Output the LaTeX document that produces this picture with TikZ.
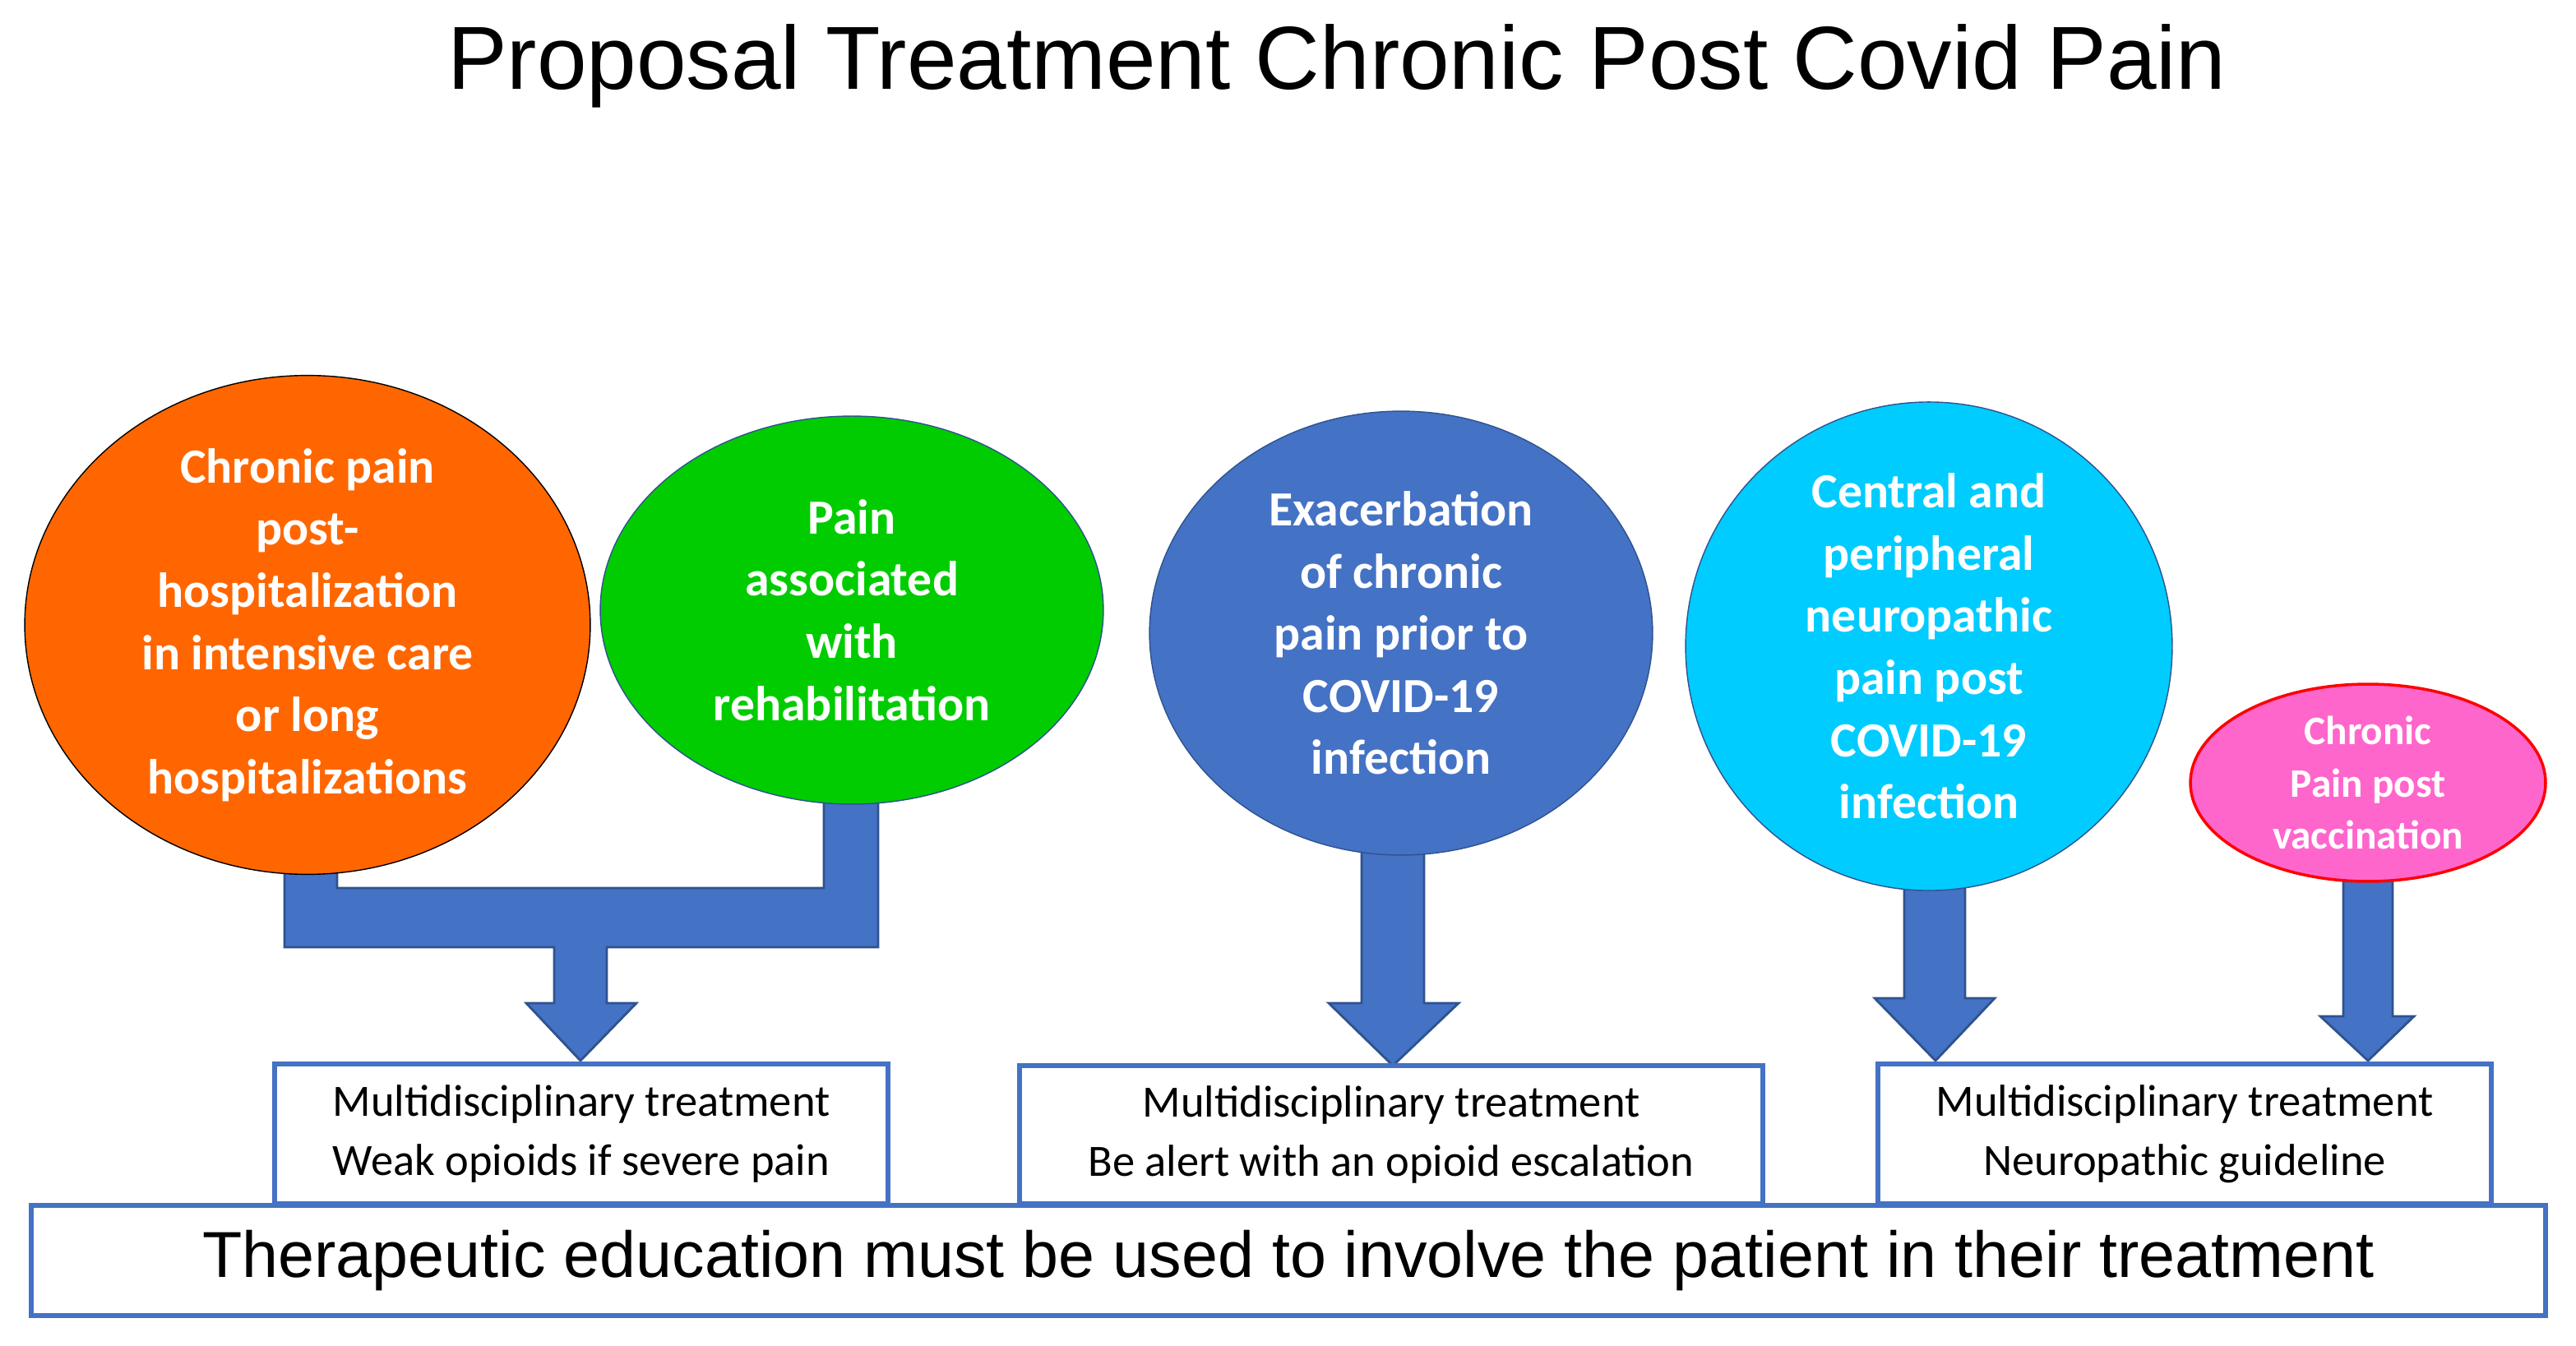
\documentclass[tikz,border=0pt]{standalone}
\usepackage{fontspec}
\setmainfont{Liberation Sans}
\newfontfamily\carlito{Carlito}
\usetikzlibrary{shapes,positioning}
\definecolor{orangefill}{RGB}{255,102,0}
\definecolor{greenfill}{RGB}{0,204,0}
\definecolor{bluefill}{RGB}{68,114,196}
\definecolor{cyanfill}{RGB}{0,204,255}
\definecolor{pinkfill}{RGB}{255,102,204}
\definecolor{arrowedge}{RGB}{47,82,143}

\begin{document}
\begin{tikzpicture}[x=0.02cm,y=-0.02cm]
\tikzset{
  blob/.style={ellipse, draw, inner sep=0pt, align=center, text=white,
    font=\carlito\fontsize{17}{21.5}\selectfont\bfseries},
  treat/.style={rectangle, draw=bluefill, line width=1.6pt, fill=white,
    align=center, font=\carlito\fontsize{15.5}{20.5}\selectfont},
  block/.style={fill=bluefill, draw=arrowedge, line width=0.8pt},
}
\useasboundingbox (0,0) rectangle (1566.5,818.5);

\node[font=\fontsize{31}{36}\selectfont] (title) at (813,40) {Proposal Treatment Chronic Post Covid Pain};

% block arrows (behind the ellipses)
\draw[block] (173,500) -- (205,500) -- (205,540) -- (501,540) -- (501,480) -- (534,480)
  -- (534,576) -- (369,576) -- (369,610) -- (387,610) -- (353,645) -- (320,610)
  -- (337,610) -- (337,576) -- (173,576) -- cycle;
\draw[block] (828,500) -- (866,500) -- (866,610) -- (887,610) -- (847,648) -- (808,610) -- (828,610) -- cycle;
\draw[block] (1158,500) -- (1195,500) -- (1195,607) -- (1213,607) -- (1177,645) -- (1140,607) -- (1158,607) -- cycle;
\draw[block] (1425,520) -- (1455,520) -- (1455,618) -- (1468,618) -- (1440,645) -- (1411,618) -- (1425,618) -- cycle;

\node[blob, fill=orangefill, minimum width=6.88cm, minimum height=5.44cm] (icu) at (187,380)
  {Chronic pain\\post-\\hospitalization\\in intensive care\\or long\\hospitalizations};
\node[blob, fill=greenfill, draw=arrowedge, minimum width=6.12cm, minimum height=4.72cm] (rehab) at (518,371)
  {Pain\\associated\\with\\rehabilitation};
\node[blob, fill=bluefill, draw=arrowedge, minimum width=6.12cm, minimum height=5.4cm] (exac) at (852,385)
  {Exacerbation\\of chronic\\pain prior to\\COVID-19\\infection};
\node[blob, fill=cyanfill, draw=arrowedge, minimum width=5.92cm, minimum height=5.4cm] (neuro) at (1173,393)
  {Central and\\peripheral\\neuropathic\\pain post\\COVID-19\\infection};
\node[blob, fill=pinkfill, draw=red, line width=1pt, minimum width=4.32cm, minimum height=2.4cm,
  font=\carlito\fontsize{14}{18}\selectfont\bfseries] (vacc) at (1440,476)
  {Chronic\\Pain post\\vaccination};

\node[treat, minimum width=7.46cm, minimum height=1.7cm] (t1) at (353.5,689.5)
  {Multidisciplinary treatment\\Weak opioids if severe pain};
\node[treat, minimum width=9.04cm, minimum height=1.68cm] (t2) at (846,690)
  {Multidisciplinary treatment\\Be alert with an opioid escalation};
\node[treat, minimum width=7.46cm, minimum height=1.7cm] (t3) at (1328.5,689.5)
  {Multidisciplinary treatment\\Neuropathic guideline};

\node[treat, minimum width=30.58cm, minimum height=1.34cm, font=\fontsize{22.5}{26}\selectfont] (edu) at (783.5,766.5)
  {Therapeutic education must be used to involve the patient in their treatment};
\end{tikzpicture}
\end{document}
